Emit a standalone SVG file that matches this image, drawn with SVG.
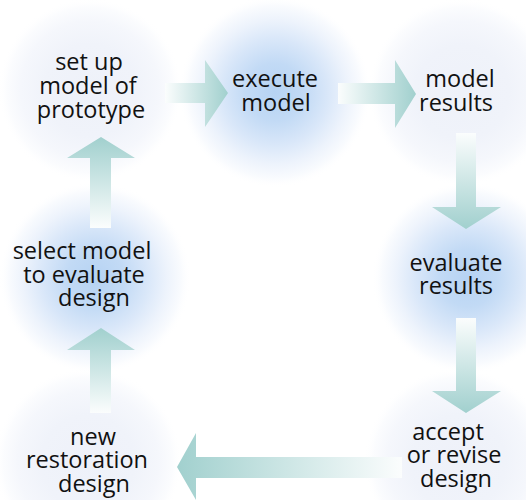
<svg xmlns="http://www.w3.org/2000/svg" width="526" height="500" viewBox="0 0 526 500">
  <defs>
    <!-- soft glows behind the step labels -->
    <radialGradient id="glowStrong">
      <stop offset="0" stop-color="#b6d3f3"/>
      <stop offset="0.3" stop-color="#c2daf5"/>
      <stop offset="0.55" stop-color="#d9e7f9"/>
      <stop offset="0.75" stop-color="#edf3fc"/>
      <stop offset="0.9" stop-color="#f9fbfe"/>
      <stop offset="1" stop-color="#ffffff" stop-opacity="0"/>
    </radialGradient>
    <radialGradient id="glowFaint">
      <stop offset="0" stop-color="#eef1f9"/>
      <stop offset="0.5" stop-color="#f0f3fa"/>
      <stop offset="0.75" stop-color="#f5f7fc"/>
      <stop offset="0.9" stop-color="#fbfcfe"/>
      <stop offset="1" stop-color="#ffffff" stop-opacity="0"/>
    </radialGradient>
    <!-- arrow fills: white tail fading into teal head -->
    <linearGradient id="toRight" x1="0" y1="0" x2="1" y2="0">
      <stop offset="0" stop-color="#fbfdfd"/>
      <stop offset="1" stop-color="#a1d0ce"/>
    </linearGradient>
    <linearGradient id="toLeft" x1="1" y1="0" x2="0" y2="0">
      <stop offset="0" stop-color="#fbfdfd"/>
      <stop offset="1" stop-color="#a1d0ce"/>
    </linearGradient>
    <linearGradient id="toDown" x1="0" y1="0" x2="0" y2="1">
      <stop offset="0" stop-color="#fbfdfd"/>
      <stop offset="1" stop-color="#a1d0ce"/>
    </linearGradient>
    <linearGradient id="toUp" x1="0" y1="1" x2="0" y2="0">
      <stop offset="0" stop-color="#fbfdfd"/>
      <stop offset="1" stop-color="#a1d0ce"/>
    </linearGradient>
  </defs>
  <style>
    text { font-family: "Open Sans", "DejaVu Sans", sans-serif; font-size: 23.5px; fill: #111111; text-anchor: middle; }
  </style>

  <rect width="526" height="500" fill="#ffffff"/>

  <g id="setup-model">
    <circle cx="90" cy="90" r="92" fill="url(#glowFaint)"/>
    <text><tspan x="89" y="70">set up</tspan><tspan x="88" y="94">model of</tspan><tspan x="91" y="118">prototype</tspan></text>
  </g>

  <g id="execute-model">
    <circle cx="275" cy="92" r="96" fill="url(#glowStrong)"/>
    <text><tspan x="275" y="87">execute</tspan><tspan x="276" y="111">model</tspan></text>
  </g>

  <g id="model-results">
    <circle cx="462" cy="92" r="94" fill="url(#glowFaint)"/>
    <text><tspan x="460" y="87">model</tspan><tspan x="456" y="111">results</tspan></text>
  </g>

  <g id="evaluate-results">
    <circle cx="468" cy="278" r="96" fill="url(#glowStrong)"/>
    <text><tspan x="456" y="271">evaluate</tspan><tspan x="456" y="294">results</tspan></text>
  </g>

  <g id="accept-revise">
    <circle cx="458" cy="462" r="94" fill="url(#glowFaint)"/>
    <text><tspan x="448" y="440">accept</tspan><tspan x="454" y="463">or revise</tspan><tspan x="456" y="487">design</tspan></text>
  </g>

  <g id="new-design">
    <circle cx="88" cy="462" r="94" fill="url(#glowFaint)"/>
    <text><tspan x="93" y="445">new</tspan><tspan x="87" y="468">restoration</tspan><tspan x="94" y="492">design</tspan></text>
  </g>

  <g id="select-model">
    <circle cx="95" cy="278" r="96" fill="url(#glowStrong)"/>
    <text><tspan x="82" y="259">select model</tspan><tspan x="84" y="283">to evaluate</tspan><tspan x="94" y="306">design</tspan></text>
  </g>

  <g id="connectors">
    <!-- set up -> execute -->
    <polygon points="165,83 205,83 205,60 228,93 205,127 205,103 165,103" fill="url(#toRight)"/>
    <!-- execute -> results -->
    <polygon points="338,83 395,83 395,60 416,94 395,128 395,104 338,104" fill="url(#toRight)"/>
    <!-- results -> evaluate -->
    <polygon points="456,133 476,133 476,207 501,207 466,229 432,207 456,207" fill="url(#toDown)"/>
    <!-- evaluate -> accept -->
    <polygon points="456,318 476,318 476,391 501,391 466,413 432,391 456,391" fill="url(#toDown)"/>
    <!-- accept -> new design -->
    <polygon points="402,457 196,457 196,433 177,467 196,500 196,478 402,478" fill="url(#toLeft)"/>
    <!-- new design -> select model -->
    <polygon points="90,413 90,350 67,350 101,328 135,350 111,350 111,413" fill="url(#toUp)"/>
    <!-- select model -> set up -->
    <polygon points="90,228 90,158 67,158 101,137 135,158 111,158 111,228" fill="url(#toUp)"/>
  </g>
</svg>
